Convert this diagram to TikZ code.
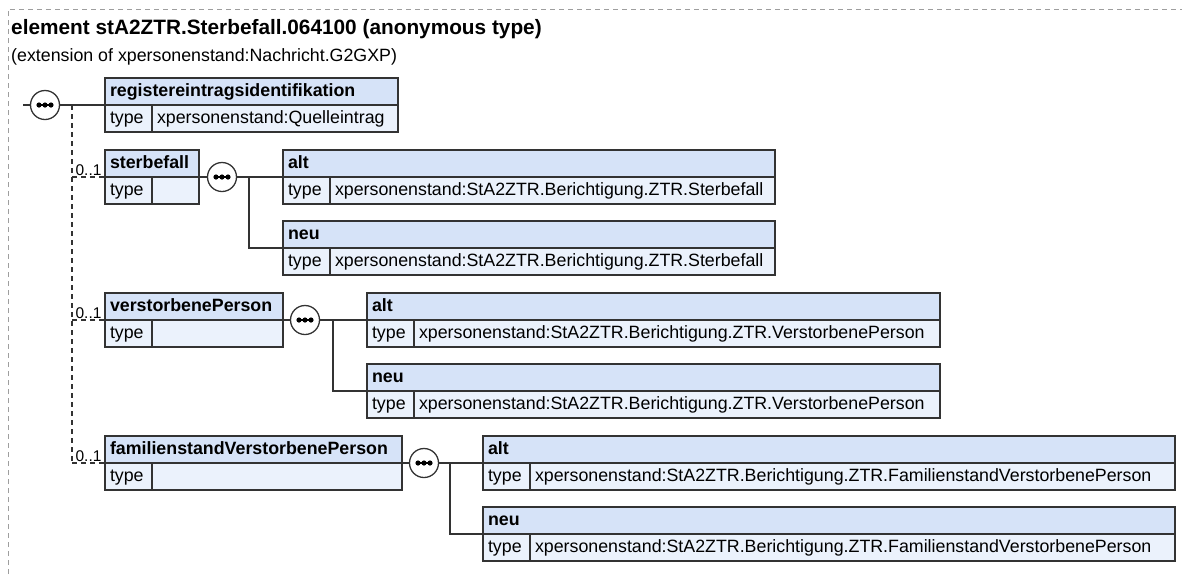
\documentclass[tikz,border=0pt]{standalone}
\usepackage{fontspec}
\setmainfont{Liberation Sans}
\usetikzlibrary{shapes.geometric}

\definecolor{hdrfill}{HTML}{D6E3F8}
\definecolor{rowfill}{HTML}{EBF2FC}
\definecolor{edgegray}{HTML}{333333}
\definecolor{framegray}{HTML}{9E9E9E}

\begin{document}
\begin{tikzpicture}[
  x=1pt,
  y=-1pt,
  font=\fontsize{17.8}{21}\selectfont,
  head/.style={
    draw=edgegray,
    fill=hdrfill,
    line width=1.3pt,
    anchor=north west,
    outer sep=0pt,
    minimum height=27pt,
    inner xsep=5pt,
    inner ysep=0pt,
    align=left,
    text height=13pt,
    text depth=4pt,
    font=\fontsize{17.8}{21}\selectfont\bfseries
  },
  typecell/.style={
    draw=edgegray,
    fill=rowfill,
    line width=1.3pt,
    anchor=north west,
    outer sep=0pt,
    minimum width=47pt,
    minimum height=27pt,
    inner xsep=5pt,
    inner ysep=0pt,
    align=left,
    text width=37pt,
    text height=13pt,
    text depth=4pt
  },
  valcell/.style={typecell},
  seq/.style={
    circle,
    draw=edgegray,
    fill=white,
    line width=1.3pt,
    minimum size=29pt,
    inner sep=0pt,
    path picture={
      \draw[black,line width=1.3pt]
        ([xshift=-8pt]path picture bounding box.center) --
        ([xshift=8pt]path picture bounding box.center);
      \foreach \dx in {-6pt,0pt,6pt}
        \fill[black] ([xshift=\dx]path picture bounding box.center) circle (2.6pt);
    }
  },
  conn/.style={draw=edgegray,line width=1.3pt},
  optconn/.style={conn,dash pattern=on 5pt off 4pt},
  occurs/.style={above,inner sep=1pt,font=\fontsize{15.5}{17}\selectfont},
  frame/.style={draw=framegray,line width=1pt,dash pattern=on 5pt off 4pt}
]
\useasboundingbox (0,0) rectangle (1182,574);

% outer frame and heading
\draw[frame] (8,574) -- (8,9) -- (1182,9);
\node[anchor=base west,inner sep=0pt,font=\fontsize{20.8}{25}\selectfont\bfseries]
  (title) at (11,34) {element stA2ZTR.Sterbefall.064100 (anonymous type)};
\node[anchor=base west,inner sep=0pt] (ext) at (11,61) {(extension of xpersonenstand:Nachricht.G2GXP)};

% root sequence
\coordinate (rootIn) at (23,105);
\coordinate (spine) at (72,105);
\node[seq] (seqR) at (45,105) {};

% registereintragsidentifikation
\node[head,text width=283pt] (regH) at (105,78) {registereintragsidentifikation};
\node[typecell] (regT) at (regH.south west) {type};
\node[valcell,text width=236pt] (regV) at (regT.north east) {xpersonenstand:Quelleintrag};

% sterbefall with alt / neu
\node[head,text width=84pt] (sterbH) at (105,150) {sterbefall};
\node[typecell] (sterbT) at (sterbH.south west) {type};
\node[valcell,text width=37pt] (sterbV) at (sterbT.north east) {};
\node[seq] (seqS) at (222,177) {};

\node[head,text width=482pt] (sAltH) at (283,150) {alt};
\node[typecell] (sAltT) at (sAltH.south west) {type};
\node[valcell,text width=435pt] (sAltV) at (sAltT.north east) {xpersonenstand:StA2ZTR.Berichtigung.ZTR.Sterbefall};

\node[head,text width=482pt] (sNeuH) at (283,221) {neu};
\node[typecell] (sNeuT) at (sNeuH.south west) {type};
\node[valcell,text width=435pt] (sNeuV) at (sNeuT.north east) {xpersonenstand:StA2ZTR.Berichtigung.ZTR.Sterbefall};

% verstorbenePerson with alt / neu
\node[head,text width=168pt] (verstH) at (105,293) {verstorbenePerson};
\node[typecell] (verstT) at (verstH.south west) {type};
\node[valcell,text width=121pt] (verstV) at (verstT.north east) {};
\node[seq] (seqV) at (305,320) {};

\node[head,text width=563pt] (vAltH) at (367,293) {alt};
\node[typecell] (vAltT) at (vAltH.south west) {type};
\node[valcell,text width=516pt] (vAltV) at (vAltT.north east) {xpersonenstand:StA2ZTR.Berichtigung.ZTR.VerstorbenePerson};

\node[head,text width=563pt] (vNeuH) at (367,364) {neu};
\node[typecell] (vNeuT) at (vNeuH.south west) {type};
\node[valcell,text width=516pt] (vNeuV) at (vNeuT.north east) {xpersonenstand:StA2ZTR.Berichtigung.ZTR.VerstorbenePerson};

% familienstandVerstorbenePerson with alt / neu
\node[head,text width=287pt] (famH) at (105,436) {familienstandVerstorbenePerson};
\node[typecell] (famT) at (famH.south west) {type};
\node[valcell,text width=240pt] (famV) at (famT.north east) {};
\node[seq] (seqF) at (424,463) {};

\node[head,text width=682pt] (fAltH) at (483,436) {alt};
\node[typecell] (fAltT) at (fAltH.south west) {type};
\node[valcell,text width=635pt] (fAltV) at (fAltT.north east) {xpersonenstand:StA2ZTR.Berichtigung.ZTR.FamilienstandVerstorbenePerson};

\node[head,text width=682pt] (fNeuH) at (483,507) {neu};
\node[typecell] (fNeuT) at (fNeuH.south west) {type};
\node[valcell,text width=635pt] (fNeuV) at (fNeuT.north east) {xpersonenstand:StA2ZTR.Berichtigung.ZTR.FamilienstandVerstorbenePerson};

% connectors of the root sequence
\draw[conn] (rootIn) -- (seqR);
\draw[conn] (seqR) -- (regH.south west);
\draw[optconn] (spine) -- (spine |- famH.south west);
\draw[optconn] (spine |- sterbH.south west) -- node[occurs] {0..1} (sterbH.south west);
\draw[optconn] (spine |- verstH.south west) -- node[occurs] {0..1} (verstH.south west);
\draw[optconn] (spine |- famH.south west) -- node[occurs] {0..1} (famH.south west);

% connectors of the inner sequences
\draw[conn] (sterbH.south east) -- (seqS);
\draw[conn] (seqS) -- (sAltH.south west);
\draw[conn] ([xshift=27pt]seqS.center) |- (sNeuH.south west);

\draw[conn] (verstH.south east) -- (seqV);
\draw[conn] (seqV) -- (vAltH.south west);
\draw[conn] ([xshift=28pt]seqV.center) |- (vNeuH.south west);

\draw[conn] (famH.south east) -- (seqF);
\draw[conn] (seqF) -- (fAltH.south west);
\draw[conn] ([xshift=26pt]seqF.center) |- (fNeuH.south west);

\end{tikzpicture}
\end{document}
